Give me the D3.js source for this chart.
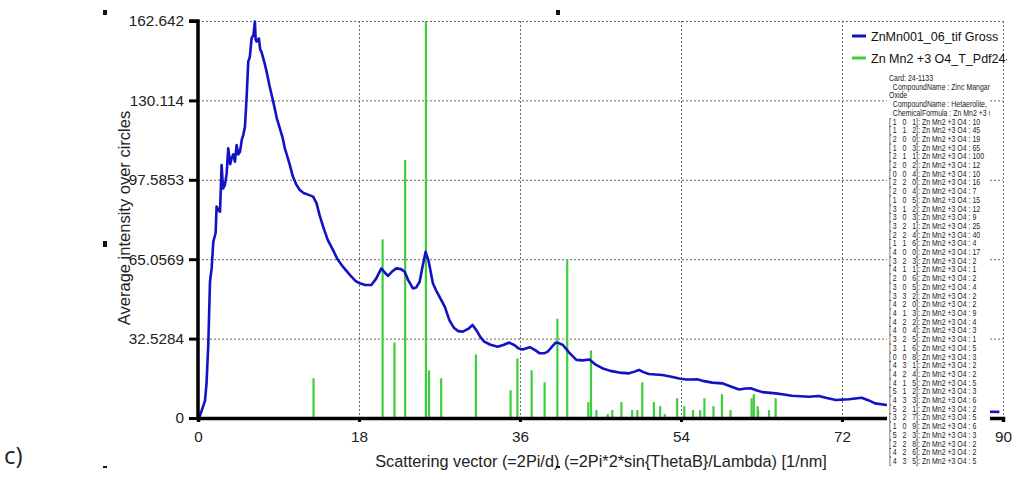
<!DOCTYPE html>
<html lang="en">
<head>
<meta charset="UTF-8">
<title>ZnMn001_06 radial profile</title>
<script src="https://cdn.jsdelivr.net/npm/d3@7"></script>
<style>
    body { margin: 0; padding: 0; background: #fff; }
    svg { display: block; font-family: Arial, "Liberation Sans", sans-serif; }
    .grid line { stroke: #666; stroke-width: 1; stroke-dasharray: 2,2; }
    .list text { font-size: 8.5px; fill: #222; }
</style>
</head>
<body>
<svg id="chart" width="1012" height="477"></svg>
<script>
// axis ticks as printed on the picture
const xTicks = [0, 18, 36, 54, 72, 90];
const yTicks = [0, 32.5284, 65.0569, 97.5853, 130.114, 162.642];
const yTickLabels = ["0", "32.5284", "65.0569", "97.5853", "130.114", "162.642"];

// measured profile: [q (1/nm), average intensity]
const grossCurve = [
    [0, 0], [0.2, 0.8], [0.78, 7], [0.95, 14], [1.15, 30], [1.34, 55.9], [1.53, 61.4], [1.71, 72.2],
    [1.97, 75.8], [2.08, 86.6], [2.3, 85], [2.46, 84.5], [2.64, 103.6], [2.8, 94], [3.01, 95.5],
    [3.2, 100], [3.38, 110.5], [3.6, 104], [3.76, 106.5], [3.95, 108], [4.13, 105], [4.32, 111.8],
    [4.5, 108], [4.69, 109.1], [4.9, 114], [5.06, 115.9], [5.25, 119.3], [5.43, 131], [5.62, 146],
    [5.8, 148], [5.99, 155.5], [6.2, 157], [6.36, 162.4], [6.45, 155], [6.55, 154.2], [6.81, 155.5],
    [6.95, 151], [7.1, 150], [7.4, 146], [7.67, 141.9], [8.0, 136], [8.41, 129.6], [8.8, 123],
    [9.15, 118.7], [9.45, 115], [9.71, 110.5], [10.0, 107], [10.27, 103.6], [10.6, 99], [11.01, 95.5],
    [11.38, 93.4], [11.8, 92.2], [12.3, 91.5], [12.87, 90.7], [13.25, 88], [13.6, 83], [13.99, 78.4],
    [14.5, 73], [15.1, 68.8], [15.6, 65], [16.2, 62], [17.0, 58.5], [17.6, 56.2], [18.08, 55.2],
    [18.7, 54.5], [19.38, 54.5], [19.9, 57], [20.5, 61.3], [20.9, 59.5], [21.24, 58.2], [21.7, 60],
    [22.17, 61.3], [22.7, 61], [23.1, 59.9], [23.5, 56.5], [24.03, 53.1], [24.4, 53.5], [24.78, 55.8],
    [25.1, 62], [25.45, 68.1], [25.8, 64], [26.26, 55.2], [26.6, 52.4], [27.2, 48.3], [27.6, 45.5],
    [28.1, 40.1], [28.6, 37], [29.1, 35.6], [29.6, 35.4], [30.2, 36.5], [30.7, 38.1], [31.2, 35.5],
    [31.6, 33], [32.0, 31.3], [32.7, 30], [33.5, 29.2], [34.2, 30], [34.8, 30.9], [35.4, 29.8],
    [35.8, 28.6], [36.3, 28.1], [37.1, 29], [37.7, 27.8], [38.2, 26.5], [38.7, 26.5], [39.1, 27.2],
    [39.6, 29.3], [40.0, 30.9], [40.4, 30.6], [40.8, 29.9], [41.5, 26.8], [42.3, 23.8], [43.0, 23.6],
    [43.75, 24], [44.4, 22], [45.2, 20.4], [46.1, 19.3], [47.1, 18.6], [48.2, 18.3], [48.8, 19],
    [49.3, 19.7], [49.8, 18.8], [50.4, 18], [51.1, 17.8], [51.9, 17.6], [52.8, 17], [53.8, 16.2],
    [54.6, 15.8], [55.2, 15.8], [55.8, 15.9], [56.6, 15.1], [57.5, 14.5], [58.6, 14.2], [59.5, 13],
    [60.5, 11.7], [61.2, 12.1], [61.8, 12.2], [62.5, 11.3], [63.1, 10.6], [64.6, 10.1], [65.5, 9.6],
    [66.4, 9.1], [68.3, 8.7], [69.4, 9], [70.3, 8.2], [71.3, 7.4], [72.8, 7.7], [74.2, 8.3],
    [75.0, 7.2], [75.7, 6], [77.0, 5.3], [80, 4.7], [84, 3.8], [87, 3.0], [88.3, 2.6], [89.6, 2.5]
];

// reference card 24-1133 reflections
const refHkl = ["1 0 1", "1 1 2", "2 0 0", "1 0 3", "2 1 1", "2 0 2", "0 0 4", "2 2 0", "2 0 4", "1 0 5",
    "3 1 2", "3 0 3", "3 2 1", "2 2 4", "1 1 6", "4 0 0", "3 2 3", "4 1 1", "2 0 6", "3 0 5",
    "3 3 2", "4 2 0", "4 1 3", "4 2 2", "4 0 4", "3 2 5", "3 1 6", "0 0 8", "4 3 1", "4 2 4",
    "4 1 5", "5 1 2", "4 3 3", "5 2 1", "3 2 7", "1 0 9", "5 2 3", "2 2 8", "4 2 6", "4 3 5"];
const refQ = [12.92, 20.64, 21.97, 23.16, 25.48, 25.83, 27.19, 31.07, 34.95, 35.71,
    37.30, 38.75, 40.18, 41.28, 43.64, 43.94, 44.54, 45.80, 46.32, 47.34,
    48.54, 49.12, 49.67, 50.97, 51.67, 52.18, 53.57, 54.37, 55.34, 56.14,
    56.62, 57.63, 58.58, 59.54, 61.90, 62.14, 62.57, 62.62, 63.84, 64.58];
const refInt = [10, 45, 19, 65, 100, 12, 10, 16, 7, 15,
    12, 9, 25, 40, 4, 17, 2, 1, 2, 4,
    2, 2, 9, 4, 3, 1, 5, 3, 2, 2,
    5, 3, 6, 2, 5, 6, 3, 2, 2, 5];

const seriesNames = ["ZnMn001_06_tif Gross", "Zn Mn2 +3 O4_T_Pdf24-1133"];
const cardHeader = ["Card: 24-1133", "  CompoundName : Zinc Manganese", "Oxide",
    "  CompoundName : Hetaerolite,", "  ChemicalFormula : Zn Mn2 +3 O4"];

const blue = "#1212c4";
const green = "#3ccf3c";

const svg = d3.select("#chart");
svg.append("rect").attr("width", 1012).attr("height", 477).attr("fill", "#fff");

const x = d3.scaleLinear().domain([0, 90]).range([198, 1003]);
const y = d3.scaleLinear().domain([0, 162.642]).range([418, 21]);
const yStick = d3.scaleLinear().domain([0, 100]).range([418, 21]);

// dotted grid
const grid = svg.append("g").attr("class", "grid");
grid.selectAll(".gy").data(yTicks.slice(1)).enter().append("line")
    .attr("x1", x(0)).attr("x2", x(90))
    .attr("y1", d => y(d) + 0.5).attr("y2", d => y(d) + 0.5);
grid.selectAll(".gx").data(xTicks.slice(1)).enter().append("line")
    .attr("x1", d => x(d) + 0.5).attr("x2", d => x(d) + 0.5)
    .attr("y1", y(162.642)).attr("y2", y(0));

// reference sticks
svg.append("g").selectAll("line").data(refQ).enter().append("line")
    .attr("x1", d => x(d)).attr("x2", d => x(d))
    .attr("y1", y(0)).attr("y2", (d, i) => yStick(refInt[i]))
    .attr("stroke", green).attr("stroke-width", 2.2);

// measured curve
const line = d3.line().x(d => x(d[0])).y(d => y(d[1]));
svg.append("path").datum(grossCurve)
    .attr("fill", "none").attr("stroke", blue).attr("stroke-width", 2.6)
    .attr("stroke-linejoin", "round").attr("d", line);

// axes
const yAxis = svg.append("g").attr("transform", `translate(${x(0)},0)`)
    .call(d3.axisLeft(y).tickValues(yTicks).tickSize(9).tickPadding(5)
        .tickFormat((d, i) => yTickLabels[i]));
const xAxis = svg.append("g").attr("transform", `translate(0,${y(0)})`)
    .call(d3.axisBottom(x).tickValues(xTicks).tickSize(4).tickPadding(9));
[yAxis, xAxis].forEach(a => {
    a.select(".domain").attr("stroke", "#000").attr("stroke-width", 3.5);
    a.selectAll(".tick line").attr("stroke", "#000").attr("stroke-width", 3);
    a.selectAll(".tick text").attr("fill", "#222").style("font-size", "15.3px");
});
yAxis.select(".domain").attr("d", `M-9,${y(162.642)}H0V${y(0)}`);

// axis titles
svg.append("text").attr("x", 601).attr("y", 467).attr("text-anchor", "middle")
    .attr("fill", "#222").style("font-size", "16.3px")
    .text("Scattering vector (=2Pi/d) (=2Pi*2*sin{ThetaB}/Lambda) [1/nm]");
svg.append("text").attr("transform", "translate(130,218) rotate(-90)")
    .attr("text-anchor", "middle").attr("fill", "#222").style("font-size", "16.5px")
    .text("Average intensity over circles");

// legend
svg.append("clipPath").attr("id", "legclip").append("rect")
    .attr("x", 845).attr("y", 22).attr("width", 162).attr("height", 50);
const leg = svg.append("g").attr("clip-path", "url(#legclip)");
[blue, green].forEach((c, i) => {
    leg.append("line").attr("x1", 852).attr("x2", 866)
        .attr("y1", 36 + i * 22).attr("y2", 36 + i * 22)
        .attr("stroke", c).attr("stroke-width", 3);
    leg.append("text").attr("x", 871).attr("y", 41 + i * 22)
        .attr("fill", "#111").style("font-size", "12.5px").text(seriesNames[i]);
});

// card listing
svg.append("clipPath").attr("id", "listclip").append("rect")
    .attr("x", 887).attr("y", 68).attr("width", 103).attr("height", 399);
const listBox = svg.append("g").attr("clip-path", "url(#listclip)");
listBox.append("rect").attr("x", 887).attr("y", 68).attr("width", 103).attr("height", 399)
    .attr("fill", "#fff");
const listLines = cardHeader.concat(refHkl.map((h, i) =>
    "[ " + h.split(" ").join("   ") + "]: Zn Mn2 +3 O4 : " + refInt[i]));
const lineY = d3.scaleLinear().domain([0, listLines.length - 1]).range([81, 464]);
listBox.append("g").attr("class", "list").attr("transform", "translate(889,0) scale(0.82,1)")
    .selectAll("text").data(listLines).enter().append("text")
    .attr("x", 0).attr("y", (d, i) => lineY(i))
    .text(d => d.replace(/ /g, "\u00a0"));

// panel label and page marks
svg.append("text").attr("x", 4).attr("y", 464).attr("fill", "#222")
    .style("font-family", "'Open Sans', 'Noto Sans', sans-serif").style("font-size", "24px").text("c)");
const marks = [[103, 10, 4, 5], [556, 10, 4, 5], [103, 241, 4, 6], [103, 466, 4, 2], [556, 466, 4, 2]];
svg.selectAll(".mark").data(marks).enter().append("rect")
    .attr("x", d => d[0]).attr("y", d => d[1]).attr("width", d => d[2]).attr("height", d => d[3])
    .attr("fill", "#111");
</script>
</body>
</html>
